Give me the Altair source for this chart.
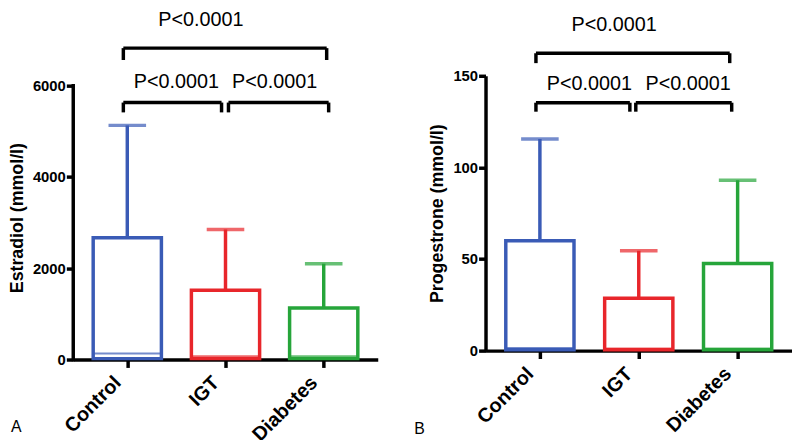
import altair as alt
import pandas as pd

groups = ["Control", "IGT", "Diabetes"]
colors = ["#3A5BB6", "#E8262B", "#26A53A"]

# Panel A: Estradiol (mmol/l)
e2_q1 = [20, 20, 20]
e2_median = [130, 70, 70]
e2_q3 = [2670, 1520, 1130]
e2_max = [5130, 2850, 2100]
e2_ticks = [0, 2000, 4000, 6000]

# Panel B: Progestrone (mmol/l)
p4_q1 = [0.5, 0.5, 0.5]
p4_median = [1.5, 1.2, 1.2]
p4_q3 = [60, 28.6, 47.5]
p4_max = [115.5, 54.5, 93]
p4_ticks = [0, 50, 100, 150]

p_label = "P<0.0001"
bracket_from = [0, 1, 0]
bracket_to = [1, 2, 2]
e2_bracket_y = [5630, 5630, 6823]
e2_bracket_drop = [5415, 5415, 6563]
e2_text_y = [5957, 5957, 7300]
p4_bracket_y = [135.3, 135.3, 162.3]
p4_bracket_drop = [130.4, 130.4, 156.9]
p4_text_y = [142.3, 142.3, 174.5]

FONT = "Liberation Sans"
LW = 3.5
label_expr = "[" + ",".join("'%s'" % g for g in groups) + "][datum.value]"


def panel(q1, med, q3, mx, ticks, ymax, width, height, title,
          by, bdrop, ty, letter, letter_x, letter_y, offsets):
    df = pd.DataFrame({"i": list(range(len(groups))), "group": groups,
                       "q1": q1, "median": med, "q3": q3, "max": mx})
    xs = alt.Scale(domain=[-0.5, len(groups) - 0.5], nice=False, zero=False)
    ys = alt.Scale(domain=[0, ymax], nice=False, zero=False)
    own_line = ymax != ticks[-1]
    xaxis = alt.Axis(values=list(range(len(groups))), labelExpr=label_expr,
                     labelAngle=-45, labelAlign="right", labelBaseline="middle",
                     labelFont=FONT, labelFontSize=20, labelOffset=-10,
                     labelFontWeight="bold", labelColor="black", labelPadding=12,
                     tickSize=8, tickWidth=LW, tickColor="black",
                     domainWidth=LW, domainColor="black", grid=False, title=None)
    yaxis = alt.Axis(values=ticks, format="d", title=title, domain=not own_line,
                     domainWidth=LW, domainColor="black",
                     tickSize=7, tickWidth=LW, tickColor="black",
                     labelFont=FONT, labelFontSize=15, labelFontWeight="bold",
                     labelColor="black", labelPadding=1,
                     titleFont=FONT, titleFontSize=18, titleFontWeight="bold",
                     titleColor="black", titlePadding=6, grid=False)
    X = lambda f: alt.X(f, scale=xs, axis=xaxis)
    Y = lambda f: alt.Y(f, scale=ys, axis=yaxis)
    color = alt.Color("group:N", scale=alt.Scale(domain=groups, range=colors), legend=None)
    base = alt.Chart(df)

    box = base.mark_bar(size=69, filled=False, strokeWidth=LW, orient="vertical").encode(
        x=X("i:Q"), y=Y("q1:Q"), y2="q3:Q", color=color)
    whisker = base.mark_rule(strokeWidth=LW).encode(
        x=X("i:Q"), y=Y("q3:Q"), y2="max:Q", color=color)
    cap = base.mark_tick(orient="horizontal", size=38, thickness=LW).encode(
        x=X("i:Q"), y=Y("max:Q"), color=color)
    median = base.mark_tick(orient="horizontal", size=67, thickness=2).encode(
        x=X("i:Q"), y=Y("median:Q"), color=color)

    layers = [box, whisker, cap, median]
    one = alt.Chart(pd.DataFrame({"k": [0]}))
    if own_line:
        yline = one.mark_rule(strokeWidth=LW, color="black", strokeCap="square").encode(
            x=alt.value(0), y=alt.Y(datum=ticks[0], scale=ys, axis=yaxis),
            y2=alt.datum(ticks[-1]))
        layers.append(yline)

    for k in range(len(bracket_from)):
        a, b = bracket_from[k], bracket_to[k]
        o1, o2, tdx = offsets[k]
        bd = pd.DataFrame({"a": [a], "b": [b], "mid": [(a + b) / 2], "y": [by[k]],
                           "drop": [bdrop[k]], "ty": [ty[k]], "label": [p_label]})
        bc = alt.Chart(bd)
        layers.append(bc.mark_rule(strokeWidth=LW, color="black", xOffset=o1, x2Offset=o2).encode(
            x=X("a:Q"), x2="b:Q", y=Y("y:Q")))
        layers.append(bc.mark_rule(strokeWidth=LW, color="black", xOffset=o1).encode(
            x=X("a:Q"), y=Y("drop:Q"), y2="y:Q"))
        layers.append(bc.mark_rule(strokeWidth=LW, color="black", xOffset=o2).encode(
            x=X("b:Q"), y=Y("drop:Q"), y2="y:Q"))
        layers.append(bc.mark_text(font=FONT, fontSize=20, color="black", align="center",
                                   baseline="alphabetic", dx=tdx).encode(
            x=X("mid:Q"), y=Y("ty:Q"), text="label:N"))

    layers.append(one.mark_text(font=FONT, fontSize=16, color="black", align="left",
                                baseline="alphabetic").encode(
        x=alt.value(letter_x), y=alt.value(letter_y), text=alt.value(letter)))

    return alt.layer(*layers).properties(width=width, height=height)


panel_a = panel(e2_q1, e2_median, e2_q3, e2_max, e2_ticks, 6217, 308, 287,
                "Estradiol (mmol/l)", e2_bracket_y, e2_bracket_drop, e2_text_y,
                "A", -63, 360, [(-4, -4, 0), (3, 5, 0), (-4, 3, -25)])
panel_b = panel(p4_q1, p4_median, p4_q3, p4_max, p4_ticks, 150, 310, 278,
                "Progestrone (mmol/l)", p4_bracket_y, p4_bracket_drop, p4_text_y,
                "B", -72, 362, [(-4, -9, 0), (-3, -6, 0), (-4, -8, -25)])

chart = (alt.hconcat(panel_a, panel_b, spacing=37)
         .properties(padding={"left": 0, "top": 0, "right": 0, "bottom": 6})
         .configure_view(stroke=None)
         .configure_axis(labelColor="black", titleColor="black"))

chart.save("out.html", embed_options={"renderer": "svg", "actions": False})
